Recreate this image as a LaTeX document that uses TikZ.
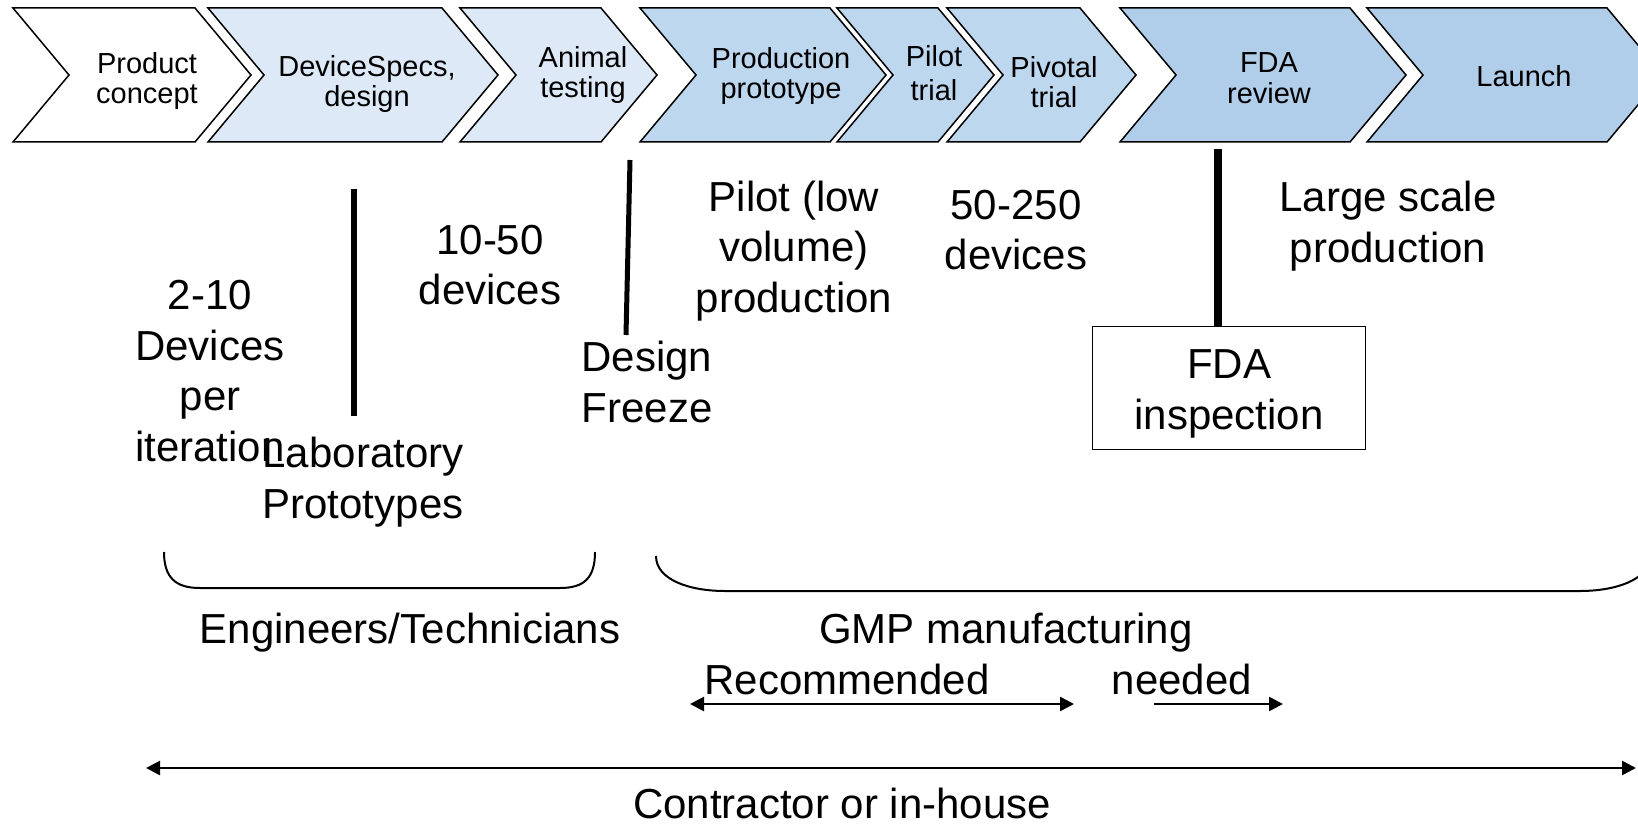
\documentclass[tikz,border=0pt]{standalone}
\usepackage{fontspec}
\setmainfont{Liberation Sans}
\usetikzlibrary{arrows.meta}
\definecolor{paleblue}{RGB}{221,233,246}
\definecolor{midblue}{RGB}{189,215,238}
\definecolor{deepblue}{RGB}{176,205,233}

\begin{document}
\begin{tikzpicture}[x=0.5pt,y=-0.5pt,
                    chevron/.style={draw=black,line width=0.75pt},
                    phase node/.style={align=center,inner sep=0pt,font=\fontsize{14.5}{15.2}\selectfont},
                    note node/.style={align=center,inner sep=0pt,font=\fontsize{21}{25.3}\selectfont},
                    milestone/.style={line width=3pt},
                    bracket/.style={line width=1pt},
                    span arrow/.style={line width=1.25pt,{Triangle[length=7pt,width=7pt]}-{Triangle[length=7pt,width=7pt]}},
                    half arrow/.style={line width=1.25pt,-{Triangle[length=7pt,width=7pt]}}]
  \clip (0,0) rectangle (1638,824);
  \fill[white] (0,0) rectangle (1638,824);

  % phase chevrons
  \filldraw[chevron,fill=white]    (13,8) -- (195,8) -- (251,75) -- (195,142) -- (13,142) -- (69,75) -- cycle;
  \filldraw[chevron,fill=paleblue] (208,8) -- (442,8) -- (498,75) -- (442,142) -- (208,142) -- (264,75) -- cycle;
  \filldraw[chevron,fill=paleblue] (460,8) -- (601,8) -- (657,75) -- (601,142) -- (460,142) -- (516,75) -- cycle;
  \filldraw[chevron,fill=midblue]  (640,8) -- (830,8) -- (886,75) -- (830,142) -- (640,142) -- (696,75) -- cycle;
  \filldraw[chevron,fill=midblue]  (837,8) -- (938,8) -- (994,75) -- (938,142) -- (837,142) -- (893,75) -- cycle;
  \filldraw[chevron,fill=midblue]  (947,8) -- (1080,8) -- (1136,75) -- (1080,142) -- (947,142) -- (1003,75) -- cycle;
  \filldraw[chevron,fill=deepblue] (1120,8) -- (1350,8) -- (1406,75) -- (1350,142) -- (1120,142) -- (1176,75) -- cycle;
  \filldraw[chevron,fill=deepblue] (1367,8) -- (1607,8) -- (1663,75) -- (1607,142) -- (1367,142) -- (1423,75) -- cycle;

  \node[phase node] (concept)    at (147,81)  {Product\\concept};
  \node[phase node] (specs)      at (367,84)  {DeviceSpecs,\\design};
  \node[phase node] (animal)     at (583,75)  {Animal\\testing};
  \node[phase node] (prototype)  at (781,76)  {Production\\prototype};
  \node[phase node,font=\fontsize{14.5}{17}\selectfont] (pilot) at (934,73) {Pilot\\trial};
  \node[phase node] (pivotal)    at (1054,82) {Pivotal\\trial};
  \node[phase node] (review)     at (1269,78) {FDA\\review};
  \node[phase node] (launch)     at (1524,76) {Launch};

  % notes under the phases
  \node[note node] (iteration)  at (210,371)  {2-10\\Devices\\per\\iteration};
  \node[note node] (lab)        at (363,482)  {Laboratory\\Prototypes};
  \node[note node] (tenfifty)   at (490,265)  {10-50\\devices};
  \node[note node] (freeze)     at (647,382)  {Design\\Freeze};
  \node[note node] (lowvolume)  at (794,251)  {Pilot (low\\volume)\\production};
  \node[note node] (fiftytwo)   at (1016,230) {50-250\\devices};
  \node[note node] (largescale) at (1388,226) {Large scale\\production};
  \node[draw,line width=0.75pt,minimum width=136.5pt,minimum height=61.5pt,
        label={[note node,yshift=-3pt]center:FDA\\inspection}]
        (inspect) at (1229,388) {};

  \coordinate (lab mark)    at (354,189);
  \coordinate (freeze top)  at (630,160);
  \coordinate (freeze foot) at (626,335);
  \coordinate (review mark) at (1218,149);
  \draw[milestone] (lab mark) -- (354,416);
  \draw[milestone,line width=2.5pt] (freeze top) -- (freeze foot);
  \draw[milestone,line width=4pt] (review mark) -- (review mark |- inspect.north);

  % who builds the devices
  \draw[bracket] (164,552) .. controls (164,578) and (176,588) .. (200,588) -- (560,588)
                 .. controls (584,588) and (595,578) .. (595,552);
  \draw[bracket] (656,556) .. controls (656,580) and (690,591) .. (725,591) -- (1580,591)
                 .. controls (1615,591) and (1650,580) .. (1650,556);
  \node[note node] (engineers) at (410,633)  {Engineers/Technicians};
  \node[note node] (gmp)       at (1006,633) {GMP manufacturing};
  \node[note node] (recommend) at (847,679)  {Recommended};
  \node[note node] (needed)    at (1182,679) {needed};
  \node[note node] (contract)  at (842,803)  {Contractor or in-house};

  \coordinate (rec left)  at (690,704);
  \coordinate (rec right) at (1074,704);
  \coordinate (need left) at (1154,704);
  \coordinate (need right) at (1283,704);
  \coordinate (all left)  at (146,768);
  \coordinate (all right) at (1636,768);
  \draw[span arrow] (rec left) -- (rec right);
  \draw[half arrow] (need left) -- (need right);
  \draw[span arrow] (all left) -- (all right);
\end{tikzpicture}
\end{document}
